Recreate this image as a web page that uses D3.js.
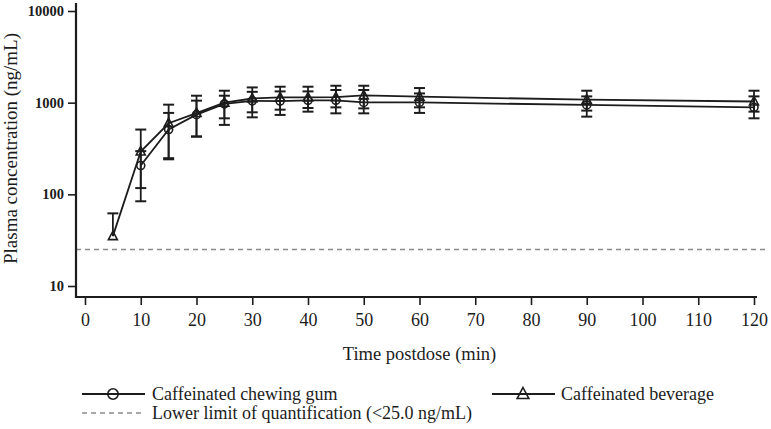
<!DOCTYPE html>
<html><head><meta charset="utf-8">
<script src="https://cdn.jsdelivr.net/npm/d3@7"></script>
<style>body{margin:0;background:#fff}svg{display:block}</style>
</head><body>
<svg id="c" width="771" height="429"></svg>
<script>
const times = [5,10,15,20,25,30,35,40,45,50,60,90,120];
const gumMean  = [null,206,509,740,968,1047,1040,1060,1060,1007,1007,944,890];
const gumUpper = [null,296,773,1052,1191,1313,1327,1327,1374,1374,1261,1171,1171];
const gumLower = [null,117,248,427,572,692,735,798,765,765,773,704,675];
const bevMean  = [35,293,596,770,1000,1110,1142,1140,1150,1200,1162,1078,1030];
const bevUpper = [62,509,951,1191,1350,1466,1493,1493,1530,1530,1444,1350,1350];
const bevLower = [null,84,241,427,675,785,839,875,889,866,889,819,798];
const xTicks = [0,10,20,30,40,50,60,70,80,90,100,110,120];
const yTicks = [10,100,1000,10000];
const lloq = 25;
const labels = {gum:"Caffeinated chewing gum", bev:"Caffeinated beverage",
  lloq:"Lower limit of quantification (<25.0 ng/mL)",
  x:"Time postdose (min)", y:"Plasma concentration (ng/mL)"};

const svg = d3.select("#c");
const ink = "#1c1c1c";
const serif = "'Liberation Serif', 'Times New Roman', serif";
const x = d3.scaleLinear().domain([0,120]).range([85,754]);
const y = d3.scaleLog().domain([10,10000]).range([286,11]);
const axisX = 76, axisY = 297;

// LLOQ dashed line
svg.append("line").attr("x1",axisX).attr("x2",765).attr("y1",y(lloq)).attr("y2",y(lloq))
  .attr("stroke","#8a8a8a").attr("stroke-width",1.5).attr("stroke-dasharray","5,4");

// axes
const gy = svg.append("g").attr("transform",`translate(${axisX},0)`)
  .call(d3.axisLeft(y).tickValues(yTicks).tickFormat(d3.format("d")).tickSize(8).tickSizeOuter(0));
gy.select(".domain").remove();
gy.selectAll(".tick line").attr("stroke",ink).attr("stroke-width",1.6);
gy.selectAll(".tick text").attr("x",-12).attr("fill",ink).style("font-family",serif)
  .style("font-size","14.5px").style("font-weight","bold");
const gx = svg.append("g").attr("transform",`translate(0,${axisY})`)
  .call(d3.axisBottom(x).tickValues(xTicks).tickSize(8).tickSizeOuter(0));
gx.select(".domain").remove();
gx.selectAll(".tick line").attr("stroke",ink).attr("stroke-width",1.6);
gx.selectAll(".tick text").attr("y",16).attr("fill",ink).style("font-family",serif).style("font-size","18px");
svg.append("line").attr("x1",axisX).attr("x2",axisX).attr("y1",3).attr("y2",axisY+1)
  .attr("stroke",ink).attr("stroke-width",2.2);
svg.append("line").attr("x1",axisX-1).attr("x2",757).attr("y1",axisY).attr("y2",axisY)
  .attr("stroke",ink).attr("stroke-width",2.2);

svg.append("text").attr("x",(x(0)+x(120))/2).attr("y",360).attr("text-anchor","middle")
  .attr("fill",ink).style("font-family",serif).style("font-size","18.5px").text(labels.x);
svg.append("text").attr("transform",`translate(17,${(y(10)+y(10000))/2}) rotate(-90)`)
  .attr("text-anchor","middle").attr("fill",ink).style("font-family",serif).style("font-size","19px").text(labels.y);

function series(mean, up, lo, marker){
  const pts = times.map((t,i)=>({t, m:mean[i], u:up[i], l:lo[i]})).filter(d=>d.m!=null);
  const g = svg.append("g");
  g.append("path").datum(pts).attr("fill","none").attr("stroke",ink).attr("stroke-width",1.8)
    .attr("d", d3.line().x(d=>x(d.t)).y(d=>y(d.m)));
  const cw = 5.5;
  pts.forEach(d=>{
    const top = d.u!=null ? d.u : d.m, bot = d.l!=null ? d.l : d.m;
    g.append("line").attr("x1",x(d.t)).attr("x2",x(d.t)).attr("y1",y(top)).attr("y2",y(bot))
      .attr("stroke",ink).attr("stroke-width",1.8);
    if (d.u!=null) g.append("line").attr("x1",x(d.t)-cw).attr("x2",x(d.t)+cw).attr("y1",y(d.u)).attr("y2",y(d.u))
      .attr("stroke",ink).attr("stroke-width",2);
    if (d.l!=null) g.append("line").attr("x1",x(d.t)-cw).attr("x2",x(d.t)+cw).attr("y1",y(d.l)).attr("y2",y(d.l))
      .attr("stroke",ink).attr("stroke-width",2);
  });
  pts.forEach(d=>marker(g, x(d.t), y(d.m), 1));
}
const circ = (g,cx,cy,s)=>g.append("circle").attr("cx",cx).attr("cy",cy).attr("r",4*s)
  .attr("fill","none").attr("stroke",ink).attr("stroke-width",1.6);
const tri = (g,cx,cy,s)=>g.append("path")
  .attr("d",`M${cx},${cy-5*s}L${cx+4.5*s},${cy+3.5*s}L${cx-4.5*s},${cy+3.5*s}Z`)
  .attr("fill","none").attr("stroke",ink).attr("stroke-width",1.6);

series(gumMean,gumUpper,gumLower,circ);
series(bevMean,bevUpper,bevLower,tri);

// legend
const lg = svg.append("g");
const legText = (tx,ty,t)=>lg.append("text").attr("x",tx).attr("y",ty).attr("dy","0.35em")
  .attr("fill",ink).style("font-family",serif).style("font-size","18px").text(t);
const r1 = 394, r2 = 413;
lg.append("line").attr("x1",82).attr("x2",145).attr("y1",r1).attr("y2",r1).attr("stroke",ink).attr("stroke-width",2);
circ(lg,113,r1,1.3);
legText(152,r1,labels.gum);
lg.append("line").attr("x1",492).attr("x2",555).attr("y1",r1).attr("y2",r1).attr("stroke",ink).attr("stroke-width",2);
tri(lg,523,r1,1.3);
legText(561,r1,labels.bev);
lg.append("line").attr("x1",82).attr("x2",145).attr("y1",r2).attr("y2",r2).attr("stroke","#8a8a8a")
  .attr("stroke-width",1.5).attr("stroke-dasharray","5,4");
legText(152,r2,labels.lloq);
</script>
</body></html>
